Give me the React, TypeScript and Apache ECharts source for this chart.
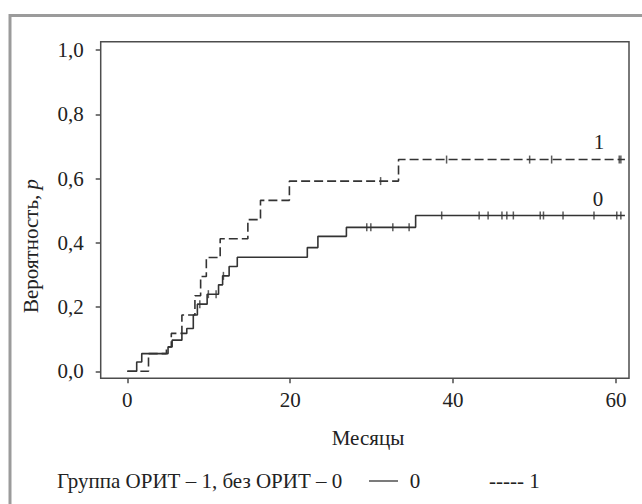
import React, { useEffect, useRef } from "react";
import * as echarts from "echarts";

const FONT = "Liberation Serif, Times New Roman, serif";
const FS = 21;
const TEXT = "#222";
const LINE = "#333";

// Group 0 (without ICU) — step points: month, cumulative probability
const months0 = [0, 1.15, 1.77, 5.0, 5.5, 6.7, 7.3, 8.1, 8.6, 9.8, 11.2, 11.7, 12.5, 13.5, 22.1, 23.4, 26.9, 35.4, 61.1];
const prob0 = [0, 0.029, 0.055, 0.076, 0.097, 0.118, 0.133, 0.175, 0.209, 0.24, 0.269, 0.297, 0.326, 0.355, 0.385, 0.42, 0.448, 0.485, 0.485];
// Group 1 (ICU)
const months1 = [0, 2.6, 4.8, 5.4, 6.7, 8.3, 9.0, 9.7, 11.4, 14.8, 16.35, 19.9, 33.3, 61.1];
const prob1 = [0, 0.055, 0.076, 0.118, 0.175, 0.235, 0.295, 0.354, 0.4125, 0.472, 0.532, 0.592, 0.659, 0.659];

// Censored observations (months)
const censor0 = [8.9, 9.95, 10.9, 11.8, 29.4, 29.9, 32.6, 34.6, 38.6, 43.2, 44.3, 46.0, 46.6, 47.4, 50.7, 51.1, 53.5, 57.3, 60.1, 60.6];
const censor1 = [31.1, 39.2, 49.4, 52.1, 60.4, 60.6];

const xTicks = [0, 20, 40, 60];
const yTicks = [0, 0.2, 0.4, 0.6, 0.8, 1.0];

function stepValue(ms: number[], ps: number[], t: number) {
  let v = ps[0];
  for (let i = 0; i < ms.length; i++) if (ms[i] <= t) v = ps[i];
  return v;
}

export default function App() {
  const ref = useRef<HTMLDivElement>(null);
  useEffect(() => {
    const chart = echarts.init(ref.current!, null, { renderer: "svg" });
    const d0 = months0.map((m, i) => [m, prob0[i]]);
    const d1 = months1.map((m, i) => [m, prob1[i]]);
    const c0 = censor0.map((m) => [m, stepValue(months0, prob0, m)]);
    const c1 = censor1.map((m) => [m, stepValue(months1, prob1, m)]);
    const txt = { fontFamily: FONT, fontSize: FS, fill: TEXT };
    chart.setOption({
      animation: false,
      backgroundColor: "#fff",
      textStyle: { fontFamily: FONT },
      grid: {
        left: 100.7,
        top: 41.7,
        right: 13,
        bottom: 125.7,
        show: true,
        borderColor: "#4d4d4d",
        borderWidth: 1.5,
        backgroundColor: "transparent",
      },
      xAxis: {
        type: "value",
        min: -3.27,
        max: 61.6,
        axisLine: { show: false, onZero: false },
        splitLine: { show: false },
        axisTick: { show: true, inside: false, length: 5, customValues: xTicks, lineStyle: { color: "#4d4d4d", width: 1.5 } },
        axisLabel: { customValues: xTicks, margin: 11, fontFamily: FONT, fontSize: FS, color: TEXT },
      },
      yAxis: {
        type: "value",
        min: -0.0218,
        max: 1.0258,
        axisLine: { show: false, onZero: false },
        splitLine: { show: false },
        axisTick: { show: true, inside: false, length: 5, customValues: yTicks, lineStyle: { color: "#4d4d4d", width: 1.5 } },
        axisLabel: {
          customValues: yTicks,
          margin: 17,
          fontFamily: FONT,
          fontSize: FS,
          color: TEXT,
          formatter: (v: number) => v.toFixed(1).replace(".", ","),
        },
      },
      series: [
        {
          type: "line",
          name: "0",
          step: "end",
          data: d0,
          symbol: "none",
          lineStyle: { color: LINE, width: 1.6, type: "solid" },
        },
        {
          type: "line",
          name: "1",
          step: "end",
          data: d1,
          symbol: "none",
          lineStyle: { color: LINE, width: 1.6, type: [9, 4] },
        },
        {
          type: "scatter",
          data: c0,
          symbol: "rect",
          symbolSize: [1.5, 8],
          itemStyle: { color: LINE },
        },
        {
          type: "scatter",
          data: c1,
          symbol: "rect",
          symbolSize: [1.5, 8],
          itemStyle: { color: LINE },
        },
      ],
      graphic: [
        {
          type: "rect",
          shape: { x: 10, y: 15.5, width: 700, height: 600 },
          style: { fill: "none", stroke: "#9b9b9b", lineWidth: 3 },
          silent: true,
        },
        {
          type: "text",
          x: 31,
          y: 246,
          rotation: Math.PI / 2,
          style: {
            text: "{a|Вероятность, }{b|p}",
            align: "center",
            verticalAlign: "middle",
            rich: {
              a: { fontFamily: FONT, fontSize: FS, fill: TEXT },
              b: { fontFamily: FONT, fontSize: FS, fill: TEXT, fontStyle: "italic" },
            },
          },
        },
        { type: "text", x: 368, y: 438, style: { ...txt, text: "Месяцы", align: "center", verticalAlign: "middle" } },
        { type: "text", x: 599, y: 142, style: { ...txt, text: "1", align: "center", verticalAlign: "middle" } },
        { type: "text", x: 598, y: 199, style: { ...txt, text: "0", align: "center", verticalAlign: "middle" } },
        { type: "text", x: 57, y: 481, style: { ...txt, text: "Группа ОРИТ – 1, без ОРИТ – 0", align: "left", verticalAlign: "middle" } },
        { type: "line", shape: { x1: 369, y1: 481, x2: 398, y2: 481 }, style: { stroke: LINE, lineWidth: 1.3 } },
        { type: "text", x: 415, y: 481, style: { ...txt, text: "0", align: "center", verticalAlign: "middle" } },
        { type: "text", x: 489, y: 481, style: { ...txt, text: "----- 1", align: "left", verticalAlign: "middle" } },
      ],
    });
    return () => chart.dispose();
  }, []);
  return (
    <div
      ref={ref}
      style={{ position: "fixed", left: 0, top: 0, width: 642, height: 504, background: "#fff" }}
    />
  );
}
